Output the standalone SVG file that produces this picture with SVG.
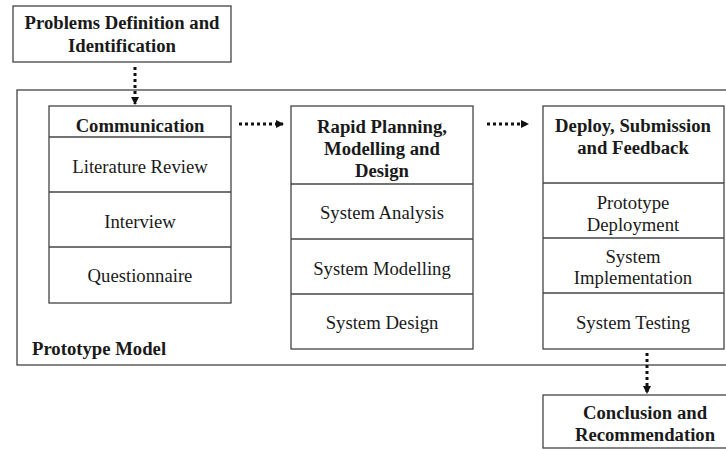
<svg xmlns="http://www.w3.org/2000/svg" width="726" height="450" viewBox="0 0 726 450">
<defs>
<style>
.box{fill:#fff;stroke:#444;stroke-width:1.3}
.ln{stroke:#444;stroke-width:1.3;fill:none}
.t{font-family:"Liberation Serif","Times New Roman",serif;font-size:18.7px;fill:#1a1a1a;text-anchor:middle}
.b{font-weight:bold}
.dot{stroke:#111;stroke-width:3;stroke-dasharray:3 3;fill:none}
</style>
<marker id="ah" markerWidth="8" markerHeight="8" refX="7" refY="4" orient="auto" markerUnits="userSpaceOnUse">
<path d="M0,0 L8,4 L0,8 Z" fill="#111"/>
</marker>
</defs>
<rect width="726" height="450" fill="#fff"/>
<g id="frame">
<rect class="box" x="17" y="90" width="760" height="275"/>
<text class="t b" x="32" y="355" style="text-anchor:start">Prototype Model</text>
</g>
<g id="problems">
<rect class="box" x="13" y="6" width="218" height="56"/>
<text class="t b" x="122" y="29">Problems Definition and</text>
<text class="t b" x="122" y="52">Identification</text>
</g>
<g id="communication">
<rect class="box" x="49" y="106" width="182" height="197"/>
<line class="ln" x1="49" y1="137" x2="231" y2="137"/>
<line class="ln" x1="49" y1="192" x2="231" y2="192"/>
<line class="ln" x1="49" y1="247" x2="231" y2="247"/>
<text class="t b" x="140" y="132">Communication</text>
<text class="t" x="140" y="173">Literature Review</text>
<text class="t" x="140" y="228">Interview</text>
<text class="t" x="140" y="282">Questionnaire</text>
</g>
<g id="planning">
<rect class="box" x="291" y="106" width="182" height="243"/>
<line class="ln" x1="291" y1="184" x2="473" y2="184"/>
<line class="ln" x1="291" y1="239" x2="473" y2="239"/>
<line class="ln" x1="291" y1="294" x2="473" y2="294"/>
<text class="t b" x="382" y="133">Rapid Planning,</text>
<text class="t b" x="382" y="155">Modelling and</text>
<text class="t b" x="382" y="177">Design</text>
<text class="t" x="382" y="219">System Analysis</text>
<text class="t" x="382" y="275">System Modelling</text>
<text class="t" x="382" y="329">System Design</text>
</g>
<g id="deploy">
<rect class="box" x="543" y="106" width="181" height="243"/>
<line class="ln" x1="543" y1="183" x2="724" y2="183"/>
<line class="ln" x1="543" y1="238" x2="724" y2="238"/>
<line class="ln" x1="543" y1="293" x2="724" y2="293"/>
<text class="t b" x="633" y="132">Deploy, Submission</text>
<text class="t b" x="633" y="154">and Feedback</text>
<text class="t" x="633" y="209">Prototype</text>
<text class="t" x="633" y="231">Deployment</text>
<text class="t" x="633" y="263">System</text>
<text class="t" x="633" y="284">Implementation</text>
<text class="t" x="633" y="329">System Testing</text>
</g>
<g id="conclusion">
<rect class="box" x="543" y="395" width="200" height="53"/>
<text class="t b" x="645" y="419">Conclusion and</text>
<text class="t b" x="645" y="441">Recommendation</text>
</g>
<g id="connectors">
<line class="dot" x1="135" y1="67" x2="135" y2="104" marker-end="url(#ah)"/>
<line class="dot" x1="239" y1="124" x2="283" y2="124" marker-end="url(#ah)"/>
<line class="dot" x1="487" y1="124" x2="528" y2="124" marker-end="url(#ah)"/>
<line class="dot" x1="647" y1="353" x2="647" y2="393" marker-end="url(#ah)"/>
</g>
</svg>
